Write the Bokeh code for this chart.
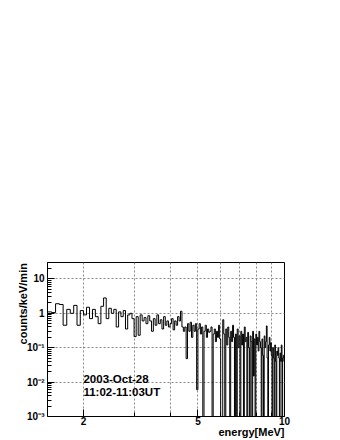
import math
from bokeh.plotting import figure
from bokeh.models import FixedTicker, CustomJSTickFormatter, Label, Range1d
from bokeh.embed import file_html
from bokeh.resources import INLINE

# ---- data -------------------------------------------------------------
E_MIN = 1.5          # first bin edge [MeV]
BIN_WIDTH = 0.05     # bin width [MeV]
counts = [
    1.1, 1.05, 1.9, 1.8, 0.45, 1.3, 1.0, 1.7, 0.45, 1.2,
    0.9, 1.5, 0.7, 1.3, 0.8, 0.5, 1.6, 2.8, 0.7, 1.4,
    1.0, 1.3, 0.4, 1.1, 0.8, 1.2, 0.35, 0.9, 1.0, 0.7,
    0.21, 0.8, 0.23, 0.9, 0.6, 0.75, 0.5, 0.85, 0.6, 0.3,
    0.7, 0.45, 0.9, 0.5, 0.65, 0.35, 0.8, 0.45, 0.6, 0.4,
    0.5, 0.7, 0.33, 0.6, 0.45, 0.8, 0.6, 1.15, 0.4, 0.3,
    0.4, 0.048, 0.5, 0.3, 0.55, 0.2, 0.45, 0.3, 0.5, 0.006,
    0.35, 0.5, 0.25, 0.4, 0.0, 0.3, 0.45, 0.2, 0.35, 0.28,
    0.3, 0.4, 0.0, 0.25, 0.35, 0.15, 0.3, 0.2, 0.45, 0.18,
    0.0, 0.0, 0.65, 0.25, 0.0, 0.35, 0.12, 0.4, 0.2, 0.0,
    0.3, 0.15, 0.45, 0.2, 0.0, 0.25, 0.0, 0.35, 0.1, 0.22,
    0.0, 0.3, 0.12, 0.25, 0.0, 0.4, 0.15, 0.2, 0.0, 0.28,
    0.1, 0.0, 0.22, 0.15, 0.0, 0.3, 0.015, 0.18, 0.0, 0.25,
    0.12, 0.2, 0.08, 0.3, 0.15, 0.1, 0.0, 0.18, 0.06, 0.0,
    0.22, 0.1, 0.15, 0.43, 0.05, 0.0, 0.12, 0.2, 0.08, 0.14,
    0.06, 0.0, 0.1, 0.05, 0.0, 0.12, 0.04, 0.0, 0.08, 0.06,
    0.1, 0.05, 0.0, 0.07, 0.04, 0.12, 0.0, 0.05, 0.06, 0.04,
]
x_major = [2, 5, 10]
x_minor = [2, 3, 4, 5, 6, 7, 8, 9, 10]
y_decades = [1e-3, 1e-2, 1e-1, 1, 10]
x_range = (1.5, 10)
y_range = (1e-3, 30)
x_title = "energy[MeV]"
y_title = "counts/keV/min"
date_text = "2003-Oct-28"
time_text = "11:02-11:03UT"

# ---- figure -----------------------------------------------------------
FONT = "Liberation Sans"
p = figure(width=340, height=440, output_backend="svg", toolbar_location=None,
           x_axis_type="log", y_axis_type="log",
           x_range=Range1d(*x_range), y_range=Range1d(*y_range),
           min_border_left=47, min_border_right=56,
           min_border_top=262, min_border_bottom=24)
p.background_fill_color = "white"
p.border_fill_color = "white"
p.outline_line_color = "black"
p.outline_line_width = 1

# histogram as steps (empty bins drawn down past the bottom, like ROOT)
edges = [E_MIN + BIN_WIDTH * i for i in range(len(counts) + 1)]
ys = [c if c > 0 else 1e-6 for c in counts]
ys = ys + [ys[-1]]
p.step(x=edges, y=ys, mode="after", line_color="black", line_width=1)

# axes
p.xaxis.ticker = FixedTicker(ticks=x_major, minor_ticks=x_minor)
ym = []
for d in y_decades[:-1]:
    ym += [d * k for k in range(2, 10)]
ym += [20, 30]
p.yaxis.ticker = FixedTicker(ticks=y_decades, minor_ticks=ym)
p.yaxis.formatter = CustomJSTickFormatter(code="""
const e = Math.round(Math.log10(tick));
if (e == 0) return "1";
if (e == 1) return "10";
const sup = {"-":"\u207b","0":"\u2070","1":"\u00b9","2":"\u00b2","3":"\u00b3","4":"\u2074","5":"\u2075","6":"\u2076","7":"\u2077","8":"\u2078","9":"\u2079"};
return "10" + String(e).split("").map(c => sup[c]).join("");
""")
p.xaxis.formatter = CustomJSTickFormatter(code="return String(Math.round(tick));")
for ax in (p.xaxis, p.yaxis):
    ax.axis_line_color = None
    ax.major_tick_in = 7
    ax.major_tick_out = 0
    ax.minor_tick_in = 4
    ax.minor_tick_out = 0
    ax.major_tick_line_color = "black"
    ax.minor_tick_line_color = "black"
    ax.major_label_text_font = FONT
    ax.major_label_text_font_style = "bold"
    ax.major_label_text_font_size = "10px"
    ax.major_label_text_color = "black"
p.yaxis.major_label_standoff = 3
p.xaxis.major_label_standoff = 0

# axis titles: Bokeh centres an "end"-aligned title on the axis end, so a
# trailing blank of the same width puts the visible text flush with the end
EM = "\u2003"
EN = "\u2002"
p.xaxis.axis_label = x_title + EM * 6
p.yaxis.axis_label = y_title + EM * 7 + EN
for ax in (p.xaxis, p.yaxis):
    ax.axis_label_text_font = FONT
    ax.axis_label_text_font_style = "bold"
    ax.axis_label_text_font_size = "11px"
    ax.axis_label_text_color = "black"
    ax.axis_label_align = "end"
p.xaxis.axis_label_standoff = -2
p.yaxis.axis_label_standoff = -5

# grid
p.xgrid.ticker = FixedTicker(ticks=x_minor[:-1])
p.ygrid.ticker = FixedTicker(ticks=y_decades[1:])
for g in (p.xgrid, p.ygrid):
    g.grid_line_color = "#8a8a8a"
    g.grid_line_dash = "2 2"
    g.grid_line_width = 1

p.add_layout(Label(x=2, y=0.0125, text=date_text,
                   text_align="left", text_baseline="alphabetic",
                   text_font=FONT, text_font_style="bold",
                   text_font_size="11.5px", text_color="black"))
p.add_layout(Label(x=2, y=0.0051, text=time_text,
                   text_align="left", text_baseline="alphabetic",
                   text_font=FONT, text_font_style="bold",
                   text_font_size="11.5px", text_color="black"))

open("out.html", "w").write(file_html(p, INLINE))
